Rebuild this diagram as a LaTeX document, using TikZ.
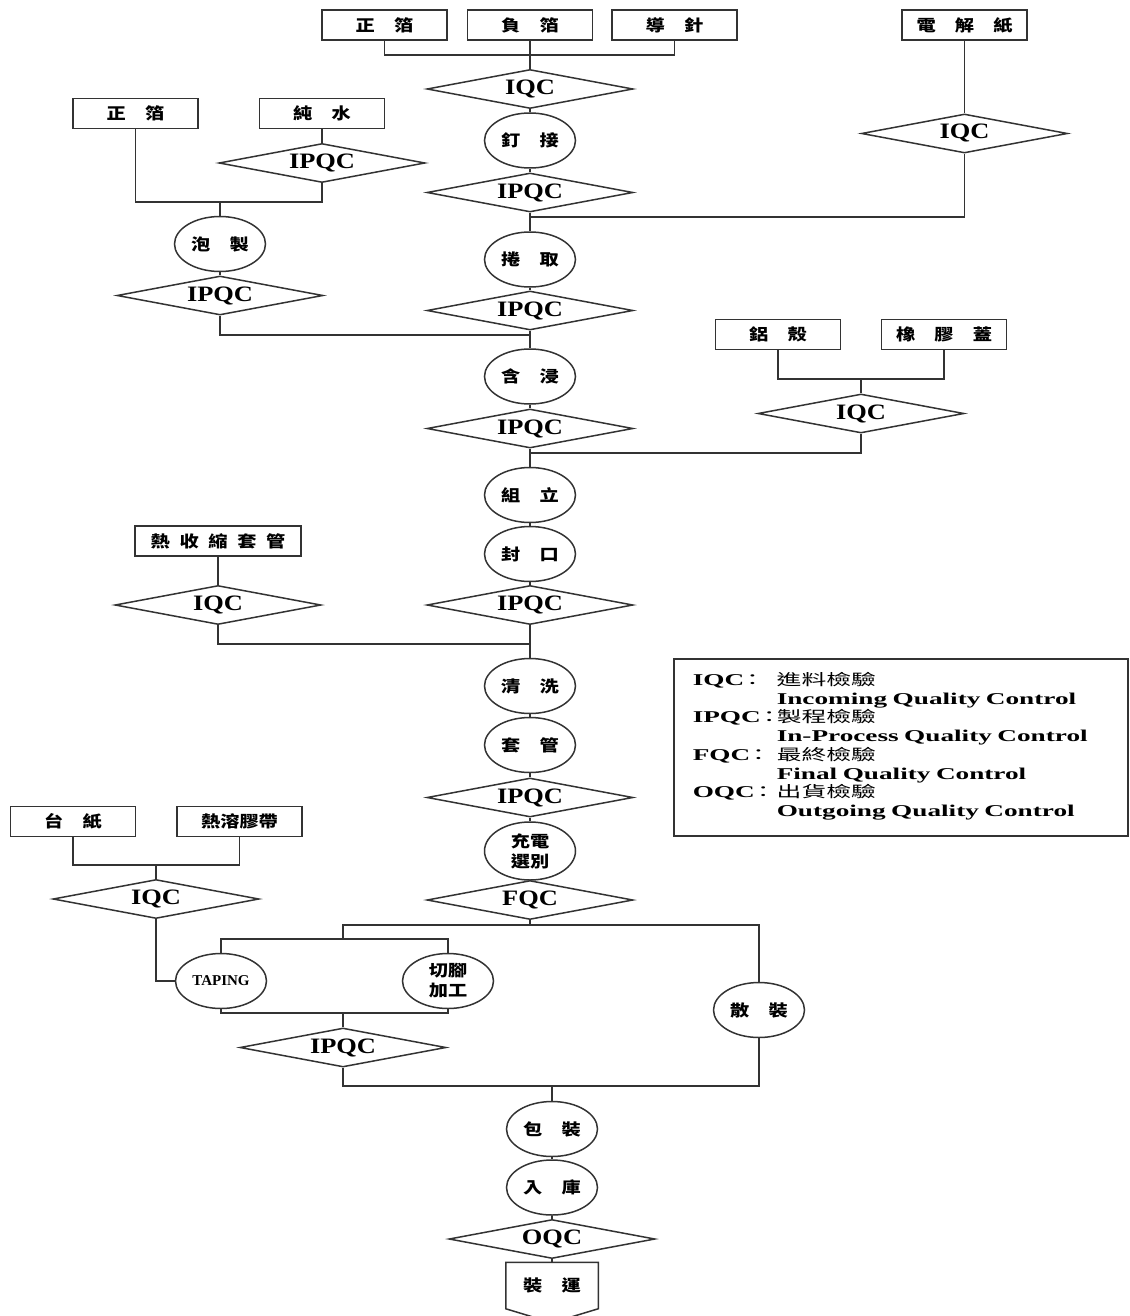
\documentclass[tikz,border=0pt]{standalone}
\usepackage{fontspec}
\setmainfont{Liberation Serif}
\newfontfamily\cjk{Noto Sans CJK TC}[FakeStretch=1.2, WordSpace=2.2]
\newfontfamily\qcfont{Liberation Serif}[FakeStretch=1.2]
\newfontfamily\lgfont{Liberation Serif}[FakeStretch=1.65]
\newfontfamily\lgcjk{Noto Sans CJK TC}[FakeStretch=1.6]
\newcommand{\lgzh}[1]{{\lgcjk\mdseries\fontsize{15.5}{18.7}\selectfont #1}}
\newcommand{\lglab}[1]{\makebox[84pt][l]{#1\kern-4pt\lgzh{：}}}
\usetikzlibrary{shapes.geometric}

\begin{document}
\begin{tikzpicture}[x=1pt,
				y=-1pt,
				line width=1.5pt,
				draw=black!80,
				box/.style={draw, rectangle, minimum width=125pt, minimum height=30pt, inner sep=0pt, font=\cjk\bfseries\fontsize{16}{18}\selectfont},
				proc/.style={draw, ellipse, minimum width=91pt, minimum height=55pt, inner sep=0pt, align=center, font=\cjk\bfseries\fontsize{16}{20}\selectfont},
				chk/.style={draw, diamond, aspect=5.3, minimum width=206pt, minimum height=39pt, inner sep=0pt, font=\qcfont\bfseries\fontsize{22}{24}\selectfont}]
				\useasboundingbox (0,0) rectangle (1129,1316);
				\node[box] at (384.5,25) (zb1) {正　箔};
				\node[box] at (530,25) (fb) {負　箔};
				\node[box] at (674.5,25) (dz) {導　針};
				\node[box] at (964.5,25) (djz) {電　解　紙};
				\node[chk] at (530,89) (iqc1) {IQC};
				\node[proc] at (530,140.5) (dj) {釘　接};
				\node[chk] at (530,192.5) (ipqc1) {IPQC};
				\node[chk] at (964.5,133.5) (iqc2) {IQC};
				\node[proc] at (530,259.5) (jq) {捲　取};
				\node[chk] at (530,310.5) (ipqc2) {IPQC};
				\node[box] at (135.5,113.5) (zb2) {正　箔};
				\node[box] at (322,113.5) (cs) {純　水};
				\node[chk] at (322,163) (ipqcl1) {IPQC};
				\node[proc] at (220,244) (pz) {泡　製};
				\node[chk] at (220,295.5) (ipqcl2) {IPQC};
				\node[proc] at (530,376.5) (hj) {含　浸};
				\node[chk] at (530,428.5) (ipqc3) {IPQC};
				\node[box] at (778,334.5) (lk) {鋁　殼};
				\node[box] at (944,334.5) (xjg) {橡　膠　蓋};
				\node[chk] at (861,413.5) (iqc3) {IQC};
				\node[proc] at (530,495) (zl) {組　立};
				\node[proc] at (530,554) (fk) {封　口};
				\node[chk] at (530,605) (ipqc4) {IPQC};
				\node[box, minimum width=166pt] at (218,541) (rss) {熱 收 縮 套 管};
				\node[chk] at (218,605) (iqc4) {IQC};
				\node[proc] at (530,686) (qx) {清　洗};
				\node[proc] at (530,745) (tg) {套　管};
				\node[chk] at (530,797.5) (ipqc5) {IPQC};
				\node[proc, minimum height=58pt] at (530,851) (cd) {充電\\選別};
				\node[chk] at (530,900) (fqc) {FQC};
				\node[box] at (73,821.5) (tz) {台　紙};
				\node[box] at (239.5,821.5) (rrjd) {熱溶膠帶};
				\node[chk] at (156,899) (iqc5) {IQC};
				\node[proc, font=\bfseries\fontsize{15}{18}\selectfont] at (221,981) (tp) {TAPING};
				\node[proc] at (448,981) (qj) {切腳\\加工};
				\node[proc] at (759,1010) (sz) {散　裝};
				\node[chk] at (343,1047.5) (ipqc6) {IPQC};
				\node[proc] at (552,1129) (bz) {包　裝};
				\node[proc] at (552,1187.5) (rk) {入　庫};
				\node[chk] at (552,1239) (oqc) {OQC};
				\node[minimum width=91pt, minimum height=45pt, inner sep=0pt, font=\cjk\bfseries\fontsize{16}{18}\selectfont] at (552,1285.5) (zy) {裝　運};
				\node[draw, anchor=north west, minimum height=177pt, text width=416pt, inner xsep=19pt, inner ysep=0pt, align=left, font=\lgfont\bfseries\fontsize{16.5}{18.7}\selectfont] at (673,658) (legend) {\begin{tabular}{@{}l@{}l@{}}
					\lglab{IQC} & \lgzh{進料檢驗}\\
					& Incoming Quality Control\\
					\lglab{IPQC} & \lgzh{製程檢驗}\\
					& In-Process Quality Control\\
					\lglab{FQC} & \lgzh{最終檢驗}\\
					& Final Quality Control\\
					\lglab{OQC} & \lgzh{出貨檢驗}\\
					& Outgoing Quality Control
				\end{tabular}};
				\coordinate (t1) at (530,55);
				\coordinate (t2) at (530,217);
				\coordinate (t3) at (530,335);
				\coordinate (t4) at (530,453);
				\coordinate (t5) at (530,644);
				\coordinate (l1) at (220,202);
				\coordinate (r1) at (861,379);
				\coordinate (b1) at (156,865);
				\coordinate (f1) at (530,925);
				\coordinate (f2) at (343,939);
				\coordinate (f3) at (343,1013);
				\coordinate (f4) at (552,1086);
				\draw (zb1.south) |- (t1) -| (dz.south);
				\draw (fb) -- (iqc1);
				\draw (iqc1) -- (dj);
				\draw (dj) -- (ipqc1);
				\draw (ipqc1) -- (jq);
				\draw (djz) -- (iqc2);
				\draw (iqc2.south) |- (t2);
				\draw (jq) -- (ipqc2);
				\draw (zb2.south) |- (l1) -| (ipqcl1.south);
				\draw (cs) -- (ipqcl1);
				\draw (l1) -- (pz);
				\draw (pz) -- (ipqcl2);
				\draw (ipqcl2.south) |- (t3);
				\draw (ipqc2) -- (hj);
				\draw (hj) -- (ipqc3);
				\draw (lk.south) |- (r1) -| (xjg.south);
				\draw (r1) -- (iqc3);
				\draw (iqc3.south) |- (t4);
				\draw (ipqc3) -- (zl);
				\draw (zl) -- (fk);
				\draw (fk) -- (ipqc4);
				\draw (rss) -- (iqc4);
				\draw (iqc4.south) |- (t5);
				\draw (ipqc4) -- (qx);
				\draw (qx) -- (tg);
				\draw (tg) -- (ipqc5);
				\draw (ipqc5) -- (cd);
				\draw (cd) -- (fqc);
				\draw (tz.south) |- (b1) -| (rrjd.south);
				\draw (b1) -- (iqc5);
				\draw (iqc5.south) |- (tp.west);
				\draw (fqc.south) -- (f1);
				\draw (f2) |- (f1) -| (sz.north);
				\draw (tp.north) |- (f2) -| (qj.north);
				\draw (tp.south) |- (f3) -| (qj.south);
				\draw (f3) -- (ipqc6);
				\draw (ipqc6.south) |- (f4) -| (sz.south);
				\draw (f4) -- (bz);
				\draw (bz) -- (rk);
				\draw (rk) -- (oqc);
				\draw (oqc) -- (zy);
				\draw (zy.south west) -- (zy.north west) -- (zy.north east) -- (zy.south east) -- ([yshift=-14pt]zy.south) -- cycle;
			\end{tikzpicture}
\end{document}
